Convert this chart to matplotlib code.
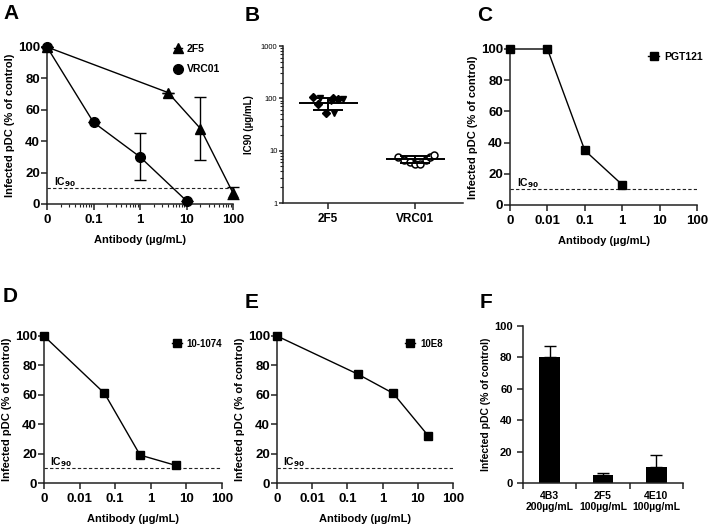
import numpy as np
import matplotlib
matplotlib.use('Agg')
import matplotlib.pyplot as plt
import matplotlib.transforms as mtransforms

plt.rcParams['font.family'] = ['Liberation Sans', 'DejaVu Sans']
plt.rcParams['font.weight'] = 'bold'

# ---- data ----
# A
a_dose_2f5 = [0, 4, 20, 100]
a_val_2f5 = [100, 71, 48, 7]
a_err_2f5 = [0, 0, 20, 4]
a_dose_vrc = [0, 0.1, 1, 10]
a_val_vrc = [100, 52, 30, 2]
a_err_vrc = [0, 0, 15, 0]

# B
b_groups = ['2F5', 'VRC01']
b_2f5 = [106, 100, 77, 53, 53, 89, 96, 96, 100]
b_2f5_jit = [-0.17, -0.1, -0.12, -0.02, 0.07, 0.03, 0.11, 0.17, 0.05]
b_2f5_mark = ['D', 'v', 'D', 'D', 'v', 'v', 'D', 'v', 'D']
b_vrc = [7.6, 6.7, 6.2, 5.5, 5.5, 6.7, 7.5, 8.4]
b_vrc_jit = [-0.2, -0.13, -0.06, 0.0, 0.06, 0.12, 0.17, 0.22]
b_mean = [81, 6.9]
b_lo = [61, 5.9]
b_hi = [100, 8.0]

# C
c_dose = [0, 0.01, 0.1, 1]
c_val = [100, 100, 35, 13]
# D
d_dose = [0, 0.05, 0.5, 5]
d_val = [100, 61, 19, 12]
# E
e_dose = [0, 0.2, 2, 20]
e_val = [100, 74, 61, 32]

# F
f_labels = ['4B3\n200µg/mL', '2F5\n100µg/mL', '4E10\n100µg/mL']
f_val = [80, 5, 10.5]
f_err = [7.5, 1.5, 7.5]

W, H = 709, 527
fig = plt.figure(figsize=(W / 100, H / 100), dpi=100)


def box(l, r, t, b):
    return [l / W, 1 - b / H, (r - l) / W, (b - t) / H]


def style(ax):
    for s in ['top', 'right']:
        ax.spines[s].set_visible(False)
    for s in ['left', 'bottom']:
        ax.spines[s].set_linewidth(1.1)
        ax.spines[s].set_color('#222222')
    ax.tick_params(which='major', direction='out', length=4, width=1.1, color='#222222')
    ax.tick_params(which='minor', direction='out', length=2, width=0.8, color='#222222')


def dose_panel(ax, zero_pos, ticks, labels):
    style(ax)
    ax.set_xscale('log')
    ax.set_xlim(zero_pos, 100)
    ax.set_ylim(0, 100)
    ax.set_xticks(ticks)
    ax.set_xticklabels(labels, fontsize=9.5, fontweight='bold')
    ax.set_yticks([0, 20, 40, 60, 80, 100])
    ax.set_yticklabels(['0', '20', '40', '60', '80', '100'], fontsize=9.5, fontweight='bold')
    ax.tick_params(axis='y', pad=1)
    ax.set_ylabel('Infected pDC (% of control)', fontsize=8, fontweight='bold', labelpad=2)
    ax.set_xlabel('Antibody (µg/mL)', fontsize=8, fontweight='bold', labelpad=6)
    ax.axhline(10, color='#222222', lw=0.8, ls=(0, (3, 2)))
    tr = mtransforms.blended_transform_factory(ax.transAxes, ax.transData)
    ax.text(0.035, 12, r'IC$_{\mathbf{90}}$', transform=tr, fontsize=7.5, fontweight='bold')


def xpos(doses, zero_pos):
    d = np.array(doses, dtype=float)
    return np.where(d == 0, zero_pos, d)


# ---- A ----
axA = fig.add_axes(box(47, 233, 47, 204))
dose_panel(axA, 0.01, [0.01, 0.1, 1, 10, 100], ['0', '0.1', '1', '10', '100'])
axA.errorbar(xpos(a_dose_2f5, 0.01), a_val_2f5, yerr=a_err_2f5, color='black', lw=1,
             marker='^', ms=6.5, capsize=4, elinewidth=1, label='2F5', clip_on=False, zorder=3)
axA.errorbar(xpos(a_dose_vrc, 0.01), a_val_vrc, yerr=a_err_vrc, color='black', lw=1,
             marker='o', ms=7, capsize=4, elinewidth=1, label='VRC01', clip_on=False, zorder=3)
h, l = axA.get_legend_handles_labels()
axA.legend([x[0] for x in h], l, loc='upper left', bbox_to_anchor=(0.63, 1.08), frameon=False,
           handlelength=0.8, handletextpad=0.5, labelspacing=1.0,
           prop={'size': 7.5, 'weight': 'bold'})

# ---- B ----
axB = fig.add_axes(box(283, 463, 46, 203))
style(axB)
axB.set_yscale('log')
axB.set_ylim(1, 1000)
axB.set_xlim(-0.52, 1.55)
axB.set_xticks([0, 1])
axB.set_xticklabels(b_groups, fontsize=8.5, fontweight='bold')
axB.set_yticks([1, 10, 100, 1000])
axB.set_yticklabels(['1', '10', '100', '1000'], fontsize=5.5, fontweight='normal')
axB.tick_params(axis='y', which='major', length=3, pad=1)
axB.set_ylabel('IC90 (µg/mL)', fontsize=7, fontweight='bold', labelpad=5)
for v, j, m in zip(b_2f5, b_2f5_jit, b_2f5_mark):
    axB.plot(0 + j, v, marker=m, color='black', ms=4, ls='none', zorder=3)
axB.plot(1 + np.array(b_vrc_jit), b_vrc, marker='o', mfc='white', mec='black', mew=1.1,
         ms=5, ls='none', zorder=3)
for i in range(2):
    axB.hlines(b_mean[i], i - 0.34, i + 0.34, color='black', lw=1.4, zorder=4)
    axB.errorbar(i, b_mean[i], yerr=[[b_mean[i] - b_lo[i]], [b_hi[i] - b_mean[i]]],
                 color='black', elinewidth=1.4, capsize=10.5, capthick=1.4, fmt='none', zorder=4)

# ---- C ----
axC = fig.add_axes(box(510, 697, 49, 205))
dose_panel(axC, 0.001, [0.001, 0.01, 0.1, 1, 10, 100], ['0', '0.01', '0.1', '1', '10', '100'])
axC.plot(xpos(c_dose, 0.001), c_val, color='black', lw=1, marker='s', ms=5.5,
         label='PGT121', clip_on=False, zorder=3)
axC.legend(loc='upper left', bbox_to_anchor=(0.69, 1.04), frameon=False, handlelength=1.0,
           handletextpad=0.5, prop={'size': 7.5, 'weight': 'bold'})

# ---- D ----
axD = fig.add_axes(box(44, 222, 336, 483))
dose_panel(axD, 0.001, [0.001, 0.01, 0.1, 1, 10, 100], ['0', '0.01', '0.1', '1', '10', '100'])
axD.plot(xpos(d_dose, 0.001), d_val, color='black', lw=1, marker='s', ms=5.5,
         label='10-1074', clip_on=False, zorder=3)
axD.legend(loc='upper left', bbox_to_anchor=(0.67, 1.04), frameon=False, handlelength=1.0,
           handletextpad=0.5, prop={'size': 7, 'weight': 'bold'})

# ---- E ----
axE = fig.add_axes(box(277, 453, 336, 483))
dose_panel(axE, 0.001, [0.001, 0.01, 0.1, 1, 10, 100], ['0', '0.01', '0.1', '1', '10', '100'])
axE.plot(xpos(e_dose, 0.001), e_val, color='black', lw=1, marker='s', ms=5.5,
         label='10E8', clip_on=False, zorder=3)
axE.legend(loc='upper left', bbox_to_anchor=(0.68, 1.04), frameon=False, handlelength=1.0,
           handletextpad=0.5, prop={'size': 7, 'weight': 'bold'})

# ---- F ----
axF = fig.add_axes(box(523, 683, 326, 483))
style(axF)
xs = np.arange(len(f_val))
axF.bar(xs, f_val, width=0.39, color='black', zorder=2)
axF.errorbar(xs, f_val, yerr=[np.zeros(len(f_err)), f_err], fmt='none', ecolor='black',
             elinewidth=1, capsize=4, capthick=1, zorder=1)
axF.set_xlim(-0.5, 2.5)
axF.set_ylim(0, 100)
axF.set_xticks(xs)
axF.set_xticklabels(f_labels, fontsize=7.5, fontweight='bold', linespacing=1.1)
axF.tick_params(axis='x', which='major', length=0, pad=6)
axF.set_xticks([-0.5, 0.5, 1.5, 2.5], minor=True)
axF.tick_params(axis='x', which='minor', length=4, width=1.1)
axF.set_yticks([0, 20, 40, 60, 80, 100])
axF.set_yticklabels(['0', '20', '40', '60', '80', '100'], fontsize=8, fontweight='bold')
axF.set_ylabel('Infected pDC (% of control)', fontsize=7.5, fontweight='bold', labelpad=2)

# panel letters
for letter, x, y in [('A', 3, 4), ('B', 245, 6), ('C', 477, 6),
                     ('D', 3, 287), ('E', 245, 293), ('F', 480, 293)]:
    fig.text(x / W, 1 - y / H, letter, fontsize=15, fontweight='bold', va='top', ha='left')

fig.savefig('out.png', dpi=100)
